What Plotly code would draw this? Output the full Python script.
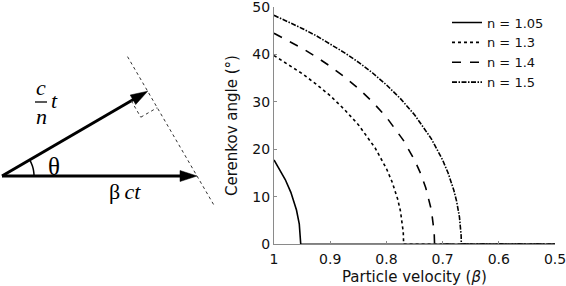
import math
import plotly.graph_objects as go

# ---------------- data ----------------
beta_n105 = [1.0, 0.99, 0.98, 0.97, 0.96, 0.955, 0.953, 0.9524, 0.5]
theta_n105 = [17.75, 15.84, 13.63, 10.94, 7.22, 4.24, 2.07, 0.0, 0.0]

beta_n130 = [1.0, 0.975, 0.95, 0.925, 0.9, 0.875, 0.85, 0.82, 0.80, 0.79, 0.78, 0.775, 0.772, 0.770, 0.7693, 0.5]
theta_n130 = [39.72, 37.9, 35.93, 33.7, 31.27, 28.4, 25.18, 20.26, 15.94, 13.17, 9.53, 6.99, 4.85, 2.56, 0.0, 0.0]

beta_n140 = [1.0, 0.975, 0.95, 0.925, 0.9, 0.875, 0.85, 0.825, 0.8, 0.77, 0.75, 0.74, 0.73, 0.72, 0.717, 0.715, 0.7143, 0.5]
theta_n140 = [44.42, 42.9, 41.25, 39.45, 37.47, 35.25, 32.82, 30.0, 26.76, 21.93, 17.75, 15.15, 11.91, 7.22, 4.99, 2.56, 0.0, 0.0]

beta_n150 = [1.0, 0.975, 0.95, 0.925, 0.9, 0.875, 0.85, 0.825, 0.8, 0.775, 0.75, 0.72, 0.70, 0.69, 0.68, 0.675, 0.67, 0.668, 0.667, 0.6667, 0.5]
theta_n150 = [48.19, 46.85, 45.43, 43.9, 42.20, 40.35, 38.34, 36.1, 33.56, 30.65, 27.27, 22.19, 17.75, 14.94, 11.36, 9.02, 5.72, 3.62, 1.81, 0.0, 0.0]

series_names = ["n = 1.05", "n = 1.3", "n = 1.4", "n = 1.5"]
series_dash = ["solid", "dot", "dash", "5px,1.5px,1.5px,1.5px"]

x_ticks = [1, 0.9, 0.8, 0.7, 0.6, 0.5]
x_ticklabels = ["1", "0.9", "0.8", "0.7", "0.6", "0.5"]
y_ticks = [0, 10, 20, 30, 40, 50]
x_title = "Particle velocity (<i>β</i>)"
y_title = "Cerenkov angle (°)"

W, H = 566, 286

fig = go.Figure()
for bx, ty, name, dash in zip([beta_n105, beta_n130, beta_n140, beta_n150],
                              [theta_n105, theta_n130, theta_n140, theta_n150],
                              series_names, series_dash):
    fig.add_trace(go.Scatter(x=bx, y=ty, mode="lines", name=name,
                             line=dict(color="black", width=1.6, dash=dash),
                             xaxis="x", yaxis="y", hoverinfo="skip"))

AX_GRAY = "#8a8a8a"
X_DOM = [274 / W, 555 / W]
fig.update_layout(
    width=W, height=H,
    margin=dict(l=0, r=0, t=0, b=0),
    paper_bgcolor="white", plot_bgcolor="white",
    font=dict(family="DejaVu Sans", size=14, color="#111"),
    showlegend=True,
    legend=dict(x=447 / W, y=1 - 7.5 / H, xanchor="left", yanchor="top",
                bgcolor="rgba(0,0,0,0)", borderwidth=0,
                font=dict(family="DejaVu Sans", size=13, color="#111"),
                itemwidth=30, tracegroupgap=0),
    xaxis=dict(domain=X_DOM, range=[1, 0.5], anchor="y",
               tickvals=x_ticks, ticktext=x_ticklabels,
               ticks="inside", ticklen=3, tickcolor=AX_GRAY,
               showline=True, linecolor=AX_GRAY, linewidth=1,
               showgrid=False, zeroline=False, automargin=False,
               ticklabeloverflow="allow", ticklabelstandoff=2,
               tickfont=dict(size=14)),
    yaxis=dict(domain=[(H - 244.3) / H, (H - 6.7) / H], range=[0, 50], anchor="x",
               tickvals=y_ticks,
               ticks="inside", ticklen=3, tickcolor=AX_GRAY,
               showline=True, linecolor=AX_GRAY, linewidth=1,
               showgrid=False, zeroline=False, automargin=False,
               ticklabeloverflow="allow",
               tickfont=dict(size=14),
               title=dict(text=y_title, font=dict(size=15), standoff=11)),
    xaxis2=dict(domain=[0, 220 / W], range=[0, 220], anchor="y2", visible=False, fixedrange=True),
    yaxis2=dict(domain=[0, 1], range=[H, 0], anchor="x2", visible=False, fixedrange=True),
)
fig.add_trace(go.Scatter(x=[None], y=[None], xaxis="x2", yaxis="y2", showlegend=False, hoverinfo="skip"))

# ---------------- diagram geometry ----------------
O = (2.0, 176.0)
L_beta = 195.0
theta_deg = 30.2
th = math.radians(theta_deg)
u = (math.cos(th), -math.sin(th))
L_cn = L_beta * math.cos(th)
B = (O[0] + L_beta, O[1])
C = (O[0] + L_cn * u[0], O[1] + L_cn * u[1])
v = ((B[0] - C[0]), (B[1] - C[1]))
vl = math.hypot(*v)
v = (v[0] / vl, v[1] / vl)

shapes = []
def seg(p, q, width=3, dash="solid", color="black"):
    shapes.append(dict(type="line", xref="x2", yref="y2", x0=p[0], y0=p[1], x1=q[0], y1=q[1],
                       line=dict(color=color, width=width, dash=dash), layer="above"))

def head(tip, d, length=17, half=5.5):
    bx_, by_ = tip[0] - d[0] * length, tip[1] - d[1] * length
    nx, ny = -d[1], d[0]
    pts = [tip, (bx_ + nx * half, by_ + ny * half), (bx_ - nx * half, by_ - ny * half)]
    path = "M {:.2f},{:.2f} L {:.2f},{:.2f} L {:.2f},{:.2f} Z".format(*pts[0], *pts[1], *pts[2])
    shapes.append(dict(type="path", xref="x2", yref="y2", path=path,
                       fillcolor="black", line=dict(color="black", width=0.5), layer="above"))

seg(O, (B[0] - 14, B[1]))
head(B, (1.0, 0.0))
seg(O, (C[0] - u[0] * 14, C[1] - u[1] * 14))
head(C, u)
ext1, ext2 = 40, 33
seg((C[0] - v[0] * ext1, C[1] - v[1] * ext1), (B[0] + v[0] * ext2, B[1] + v[1] * ext2),
    width=1, dash="dot", color="#333")
s = 19
P1 = (C[0] - u[0] * s, C[1] - u[1] * s)
P3 = (C[0] + v[0] * s, C[1] + v[1] * s)
P2 = (P1[0] + v[0] * s, P1[1] + v[1] * s)
seg(P1, P2, width=1, dash="dot", color="#333")
seg(P2, P3, width=1, dash="dot", color="#333")
r = 32
arc = [(O[0] + r * math.cos(math.radians(a)), O[1] - r * math.sin(math.radians(a)))
       for a in [theta_deg * k / 12 for k in range(13)]]
shapes.append(dict(type="path", xref="x2", yref="y2",
                   path="M " + " L ".join("{:.2f},{:.2f}".format(*p) for p in arc),
                   line=dict(color="black", width=1.5), layer="above"))
seg((35, 102), (47, 102), width=1.3)

fig.update_layout(shapes=shapes)

SERIF = "Liberation Serif"
ann = []
def txt(x, y, t, size=22):
    ann.append(dict(x=x, y=y, xref="x2", yref="y2", text=t, showarrow=False,
                    font=dict(family=SERIF, size=size, color="black"),
                    xanchor="center", yanchor="middle"))
txt(41, 87, "<i>c</i>")
txt(41, 116, "<i>n</i>")
txt(54, 100, "<i>t</i>")
txt(54, 166, "θ", size=25)
txt(125, 191, "β\u2009<i>ct</i>")
# x-axis title
ann.append(dict(x=(X_DOM[0] + X_DOM[1]) / 2, y=0, xref="paper", yref="paper",
                text=x_title, showarrow=False, xanchor="center", yanchor="bottom",
                yshift=-1, borderpad=0,
                font=dict(family="DejaVu Sans", size=15, color="#111")))
fig.update_layout(annotations=ann)

fig.write_html("out.html", config={"displayModeBar": False},
               post_script="document.body.style.margin='0';document.body.style.padding='0';")
